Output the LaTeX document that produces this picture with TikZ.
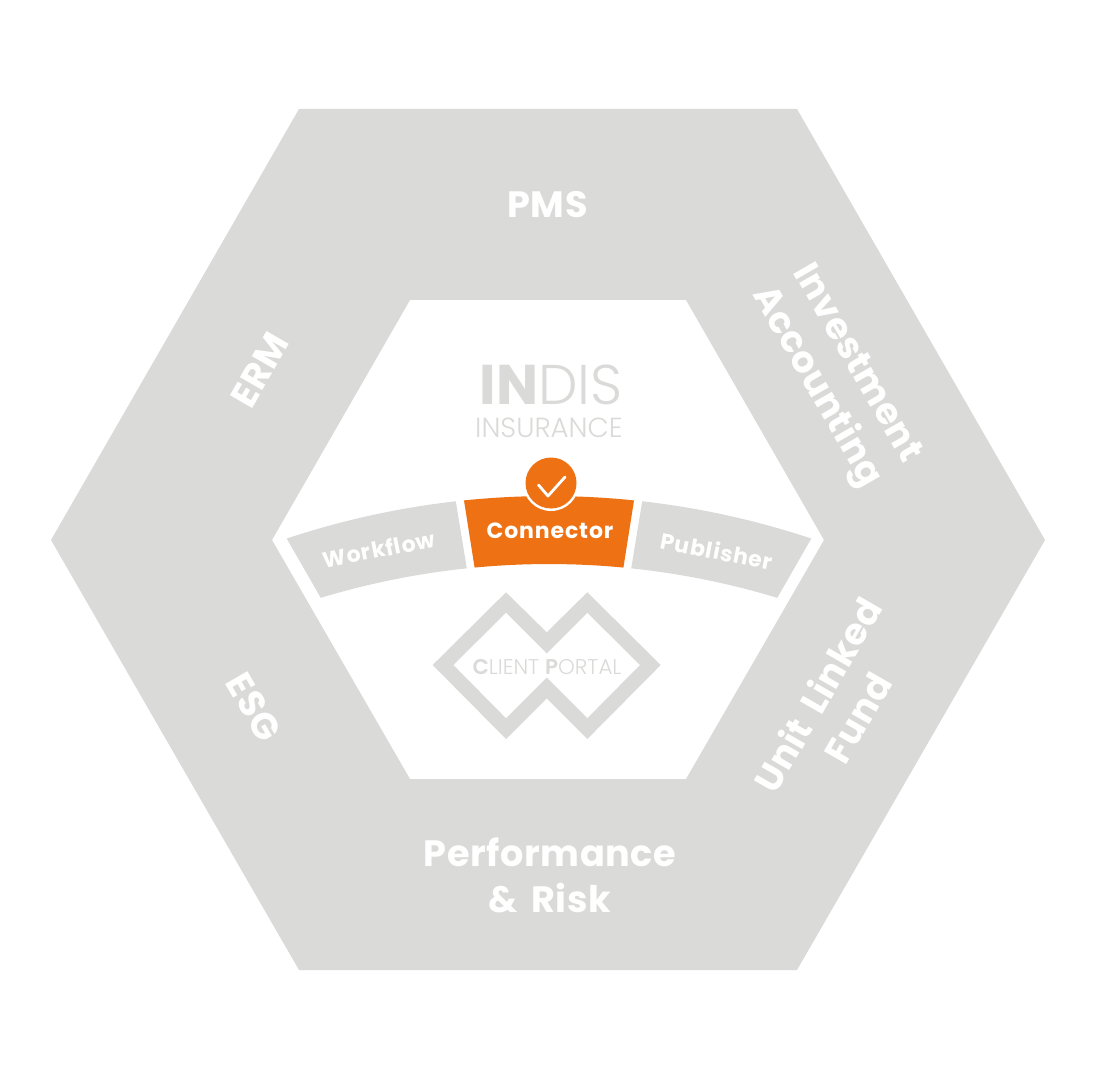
\documentclass[tikz,border=0pt]{standalone}
\usepackage{fontspec}
\setmainfont{Poppins}[UprightFont=* SemiBold,BoldFont=* Bold]
\newfontfamily\lightf{Poppins Light}
\newfontfamily\bigf{Poppins Bold}[LetterSpace=1.5,WordSpace=1.6]
\newfontfamily\smallf{Poppins Bold}[LetterSpace=4]
\definecolor{hexgrey}{HTML}{DADAD8}
\definecolor{orangeband}{HTML}{EE7214}
\definecolor{logogrey}{HTML}{DADAD8}
\newcommand{\fpx}[2]{\fontsize{#1}{#2}\selectfont}
\tikzset{
  hexfill/.style={fill=hexgrey,draw=none},
  bandgrey/.style={fill=hexgrey,draw=none},
  bandorange/.style={fill=orangeband,draw=none},
  biglabel/.style={text=white,align=center,inner sep=0pt,font=\bigf\fpx{27.5}{34.5}},
  smalllabel/.style={text=white,align=center,inner sep=0pt,font=\smallf\fpx{16.5}{20}},
  logotext/.style={text=logogrey,inner sep=0pt},
}
\begin{document}
\begin{tikzpicture}[x=0.75pt,y=-0.75pt]
\useasboundingbox (0,0) rectangle (1102,1080);
\fill[white] (0,0) rectangle (1102,1080);
% outer hexagon with inner hole
\fill[hexfill,even odd rule]
  (299,109) -- (797,109) -- (1045,540) -- (797,970) -- (299,970) -- (51,540) -- cycle
  (410,300) -- (686,300) -- (824,540) -- (686,779) -- (410,779) -- (272,540) -- cycle;
% bands
\fill[bandgrey]
  plot[domain=-18.42:-6.45,samples=24] ({549+830*sin(\x)},{1326-830*cos(\x)}) --
  plot[domain=-5.99:-16.84,samples=24] ({549+788*sin(\x)},{1352-788*cos(\x)}) -- cycle;
\fill[bandorange]
  plot[domain=-5.88:5.88,samples=24] ({549+830*sin(\x)},{1326-830*cos(\x)}) --
  plot[domain=5.42:-5.42,samples=24] ({549+788*sin(\x)},{1352-788*cos(\x)}) -- cycle;
\fill[bandgrey]
  plot[domain=6.45:18.42,samples=24] ({549+830*sin(\x)},{1326-830*cos(\x)}) --
  plot[domain=16.84:5.99,samples=24] ({549+788*sin(\x)},{1352-788*cos(\x)}) -- cycle;
% check badge
\fill[white] (551,483) circle[radius=28];
\fill[orangeband] (551,483) circle[radius=25.5];
\draw[white,line width=2.1pt,line cap=round,line join=round] (538.5,485) -- (548,496) -- (565,477);
% W logo
\fill[logogrey,even odd rule]
  (432.7,665) -- (506,592.3) -- (546.7,632.3) -- (587.3,592.3) -- (660.7,665) -- (587.3,739) -- (546.7,698.3) -- (506,739) -- cycle
  (453.3,665) -- (506,612.7) -- (546.7,653.3) -- (587.3,612.7) -- (640,665) -- (587.3,718.3) -- (546.7,677.7) -- (506,718.3) -- cycle;
% labels
\node[biglabel] (pms) at (547.5,205) {PMS};
\node[biglabel,rotate=60] (erm) at (260,370) {ERM};
\node[biglabel,rotate=-60] (esg) at (254,707) {ESG};
\node[biglabel,rotate=-60] (inv) at (835,376) {Investment\\Accounting};
\node[biglabel,rotate=60] (ulf) at (837,706) {Unit Linked\\Fund};
\node[biglabel] (perf) at (550,875) {Performance\\\& Risk};
\node[smalllabel,rotate=11] (wf) at (379,549) {Workflow};
\node[smalllabel] (cn) at (550,531) {Connector};
\node[smalllabel,rotate=-11] (pb) at (717,551) {Publisher};
% logo text
\node[logotext,font=\fpx{42}{46}] (indis) at (551,385) {\textbf{IN}{\lightf DIS}};
\node[logotext,font=\lightf\fpx{20.7}{24}] (ins) at (549,428) {INSURANCE};
\node[logotext,font=\lightf\fpx{16}{19}] (cp) at (547,667) {\textbf{C}LIENT \textbf{P}ORTAL};
\end{tikzpicture}
\end{document}
